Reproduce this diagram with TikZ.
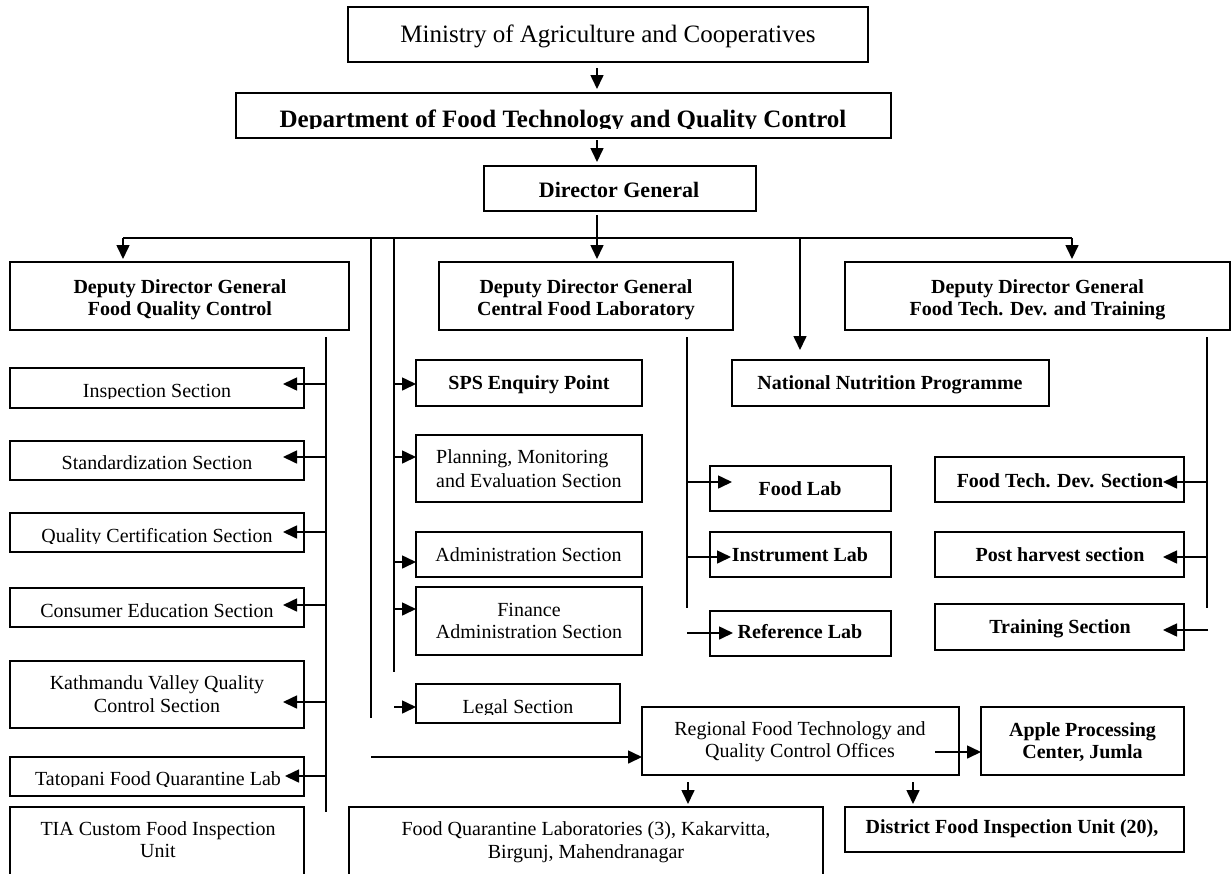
\documentclass[tikz,border=0pt]{standalone}
\usepackage{fontspec}
\setmainfont{Liberation Serif}
\usetikzlibrary{arrows.meta}
\begin{document}
\begin{tikzpicture}[x=1pt,y=-1pt,
  box/.style={draw, line width=1.3pt, inner sep=0pt, outer sep=0pt},
  ln/.style={line width=1.6pt},
  arr/.style={line width=1.6pt, -{Triangle[length=14pt,width=13pt]}},
  arrin/.style={arr, shorten >=-21pt},
  rm/.style={anchor=base, inner sep=0pt, font=\fontsize{20pt}{22pt}\selectfont},
  bf/.style={anchor=base, inner sep=0pt, font=\fontsize{20pt}{22pt}\selectfont\bfseries},
]
\useasboundingbox (0,0) rectangle (1231,873);
\clip (0,0) rectangle (1231,873);

% ---------- boxes ----------
\node[box, minimum width=520pt, minimum height=55pt] (min) at (608,34.5) {};
\node[box, minimum width=655pt, minimum height=45pt] (dept) at (563.5,115.5) {};
\node[box, minimum width=272pt, minimum height=45pt] (dg) at (620,188.5) {};
\node[box, minimum width=339pt, minimum height=68pt] (ddgA) at (179.5,296) {};
\node[box, minimum width=294pt, minimum height=68pt] (ddgB) at (586,296) {};
\node[box, minimum width=385pt, minimum height=68pt] (ddgC) at (1037.5,296) {};
\node[box, minimum width=294pt, minimum height=40pt] (insp) at (157,388) {};
\node[box, minimum width=294pt, minimum height=39pt] (std) at (157,460.5) {};
\node[box, minimum width=294pt, minimum height=39pt] (qc) at (157,532.5) {};
\node[box, minimum width=294pt, minimum height=39pt] (ce) at (157,607.5) {};
\node[box, minimum width=294pt, minimum height=67pt] (ktm) at (157,694.5) {};
\node[box, minimum width=294pt, minimum height=39pt] (tato) at (157,776.5) {};
\node[box, minimum width=294pt, minimum height=93pt] (tia) at (157,853.5) {};
\node[box, minimum width=226pt, minimum height=46pt] (sps) at (529,383) {};
\node[box, minimum width=226pt, minimum height=67pt] (pme) at (529,468.5) {};
\node[box, minimum width=226pt, minimum height=45pt] (adm) at (529,554.5) {};
\node[box, minimum width=226pt, minimum height=68pt] (fin) at (529,621) {};
\node[box, minimum width=204pt, minimum height=39pt] (legal) at (518,703.5) {};
\node[box, minimum width=317pt, minimum height=46pt] (nnp) at (890.5,383) {};
\node[box, minimum width=181pt, minimum height=45pt] (flab) at (800.5,488.5) {};
\node[box, minimum width=181pt, minimum height=45pt] (ilab) at (800.5,554.5) {};
\node[box, minimum width=181pt, minimum height=45pt] (rlab) at (800.5,633.5) {};
\node[box, minimum width=249pt, minimum height=45pt] (ftds) at (1059.5,479.5) {};
\node[box, minimum width=249pt, minimum height=45pt] (phs) at (1059.5,554.5) {};
\node[box, minimum width=249pt, minimum height=46pt] (trs) at (1059.5,627) {};
\node[box, minimum width=317pt, minimum height=68pt] (reg) at (800.5,741) {};
\node[box, minimum width=203pt, minimum height=68pt] (apple) at (1082.5,741) {};
\node[box, minimum width=474pt, minimum height=93pt] (fq) at (586,853.5) {};
\node[box, minimum width=339pt, minimum height=45pt] (dist) at (1014.5,829.5) {};

% ---------- texts ----------
\node[rm, font=\fontsize{25pt}{28pt}\selectfont] (minT) at (608,42) {Ministry of Agriculture and Cooperatives};
\begin{scope}
\clip (236,93) rectangle (891,128.5);
\node[bf, font=\fontsize{25pt}{28pt}\selectfont\bfseries] (deptT) at (563,127) {Department of Food Technology and Quality Control};
\end{scope}
\node[bf, font=\fontsize{22pt}{24pt}\selectfont\bfseries] (dgT) at (619,197) {Director General};

\node[bf] (ddgA1) at (180,293) {Deputy Director General};
\node[bf] (ddgA2) at (180,315) {Food Quality Control};
\node[bf] (ddgB1) at (586,293) {Deputy Director General};
\node[bf] (ddgB2) at (586,315) {Central Food Laboratory};
\node[bf] (ddgC1) at (1037.5,293) {Deputy Director General};
\node[bf] (ddgC2) at (1037.5,315) {Food Tech. Dev. and Training};

\begin{scope}
\clip (10,368) rectangle (304,398.5);
\node[rm] (inspT) at (157,397) {Inspection Section};
\end{scope}
\node[rm] (stdT) at (157,469) {Standardization Section};
\begin{scope}
\clip (10,513) rectangle (304,543);
\node[rm] (qcT) at (157,542) {Quality Certification Section};
\end{scope}
\node[rm] (ceT) at (157,617) {Consumer Education Section};
\node[rm] (ktmT1) at (157,689) {Kathmandu Valley Quality};
\node[rm] (ktmT2) at (157,712) {Control Section};
\begin{scope}
\clip (10,757) rectangle (304,786);
\node[rm] (tatoT) at (158,785) {Tatopani Food Quarantine Lab};
\end{scope}
\node[rm] (tiaT1) at (158,835) {TIA Custom Food Inspection};
\node[rm] (tiaT2) at (158,857) {Unit};

\node[bf] (spsT) at (529,389) {SPS Enquiry Point};
\node[rm, anchor=base west] (pmeT1) at (436,463) {Planning, Monitoring};
\node[rm, anchor=base west] (pmeT2) at (436,487) {and Evaluation Section};
\node[rm] (admT) at (528.5,561) {Administration Section};
\node[rm] (finT1) at (529,616) {Finance};
\node[rm] (finT2) at (529,638) {Administration Section};
\begin{scope}
\clip (416,684) rectangle (620,714);
\node[rm] (legalT) at (518,713) {Legal Section};
\end{scope}

\node[bf] (nnpT) at (890,389) {National Nutrition Programme};
\node[bf] (flabT) at (800,495) {Food Lab};
\node[bf] (ilabT) at (800,561) {Instrument Lab};
\node[bf] (rlabT) at (800,638) {Reference Lab};
\node[bf] (ftdsT) at (1060,487) {Food Tech. Dev. Section};
\node[bf] (phsT) at (1060,561) {Post harvest section};
\node[bf] (trsT) at (1060,633) {Training Section};
\node[rm] (regT1) at (800,735) {Regional Food Technology and};
\node[rm] (regT2) at (800,757) {Quality Control Offices};
\node[bf] (appleT1) at (1082.5,736) {Apple Processing};
\node[bf] (appleT2) at (1082.5,758) {Center, Jumla};
\node[rm] (fqT1) at (586,835) {Food Quarantine Laboratories (3), Kakarvitta,};
\node[rm] (fqT2) at (586,858) {Birgunj, Mahendranagar};
\node[bf] (distT) at (1012,833) {District Food Inspection Unit (20),};

% ---------- connectors ----------
\coordinate (cA) at (597,238);
\draw[arr, shorten <=6pt, shorten >=4pt] (min.south -| cA) -- (dept.north -| cA);
\draw[arr, shorten <=2pt, shorten >=4pt] (dept.south -| cA) -- (dg.north -| cA);
\draw[ln, shorten <=4pt] (dg.south -| cA) -- (cA);
\coordinate (hL) at (123,238);
\coordinate (hR) at (1072,238);
\coordinate (hN) at (800,238);
\draw[ln] (hL) -- (hR);
\draw[arr, shorten >=3pt] (hL) -- (hL |- ddgA.north);
\draw[arr, shorten >=3pt] (cA) -- (cA |- ddgB.north);
\draw[arr, shorten >=3pt] (hR) -- (hR |- ddgC.north);
\draw[arr, shorten >=10pt] (hN) -- (hN |- nnp.north);

\coordinate (vAt) at (371,238); \coordinate (vAb) at (371,718);
\draw[ln] (vAt) -- (vAb);
\coordinate (vBt) at (394,238); \coordinate (vBb) at (394,672);
\draw[ln] (vBt) -- (vBb);

% food quality control branch
\coordinate (fqTop) at (326,337); \coordinate (fqBot) at (326,812);
\draw[ln] (fqTop) -- (fqBot);
\coordinate (f1) at (326,384); \draw[arrin] (f1) -- (f1 -| insp.east);
\coordinate (f2) at (326,457); \draw[arrin] (f2) -- (f2 -| std.east);
\coordinate (f3) at (326,532); \draw[arrin] (f3) -- (f3 -| qc.east);
\coordinate (f4) at (326,605); \draw[arrin] (f4) -- (f4 -| ce.east);
\coordinate (f5) at (326,702); \draw[arrin] (f5) -- (f5 -| ktm.east);
\coordinate (f6) at (326,776); \draw[arr, shorten >=-19pt] (f6) -- (f6 -| tato.east);

% middle branch
\coordinate (m1) at (394,384); \draw[arr] (m1) -- (m1 -| sps.west);
\coordinate (m2) at (394,457); \draw[arr] (m2) -- (m2 -| pme.west);
\coordinate (m3) at (394,562); \draw[arr] (m3) -- (m3 -| adm.west);
\coordinate (m4) at (394,609); \draw[arr] (m4) -- (m4 -| fin.west);
\coordinate (m5) at (394,707); \draw[arr] (m5) -- (m5 -| legal.west);

% central food laboratory branch
\coordinate (cTop) at (687,337); \coordinate (cBot) at (687,608);
\draw[ln] (cTop) -- (cBot);
\coordinate (c1) at (687,482); \draw[arr, shorten >=-22pt] (c1) -- (c1 -| flab.west);
\coordinate (c2) at (687,557); \draw[arr, shorten >=-21pt] (c2) -- (c2 -| ilab.west);
\coordinate (c3) at (687,633); \draw[arr, shorten >=-23pt] (c3) -- (c3 -| rlab.west);

% food tech branch
\coordinate (tTop) at (1207,337); \coordinate (tBot) at (1207,608);
\draw[ln] (tTop) -- (tBot);
\coordinate (t1) at (1207,482); \draw[arrin] (t1) -- (t1 -| ftds.east);
\coordinate (t2) at (1207,557); \draw[arrin] (t2) -- (t2 -| phs.east);
\coordinate (t3) at (1208,630); \draw[arrin] (t3) -- (t3 -| trs.east);

% regional
\coordinate (rg) at (371,757); \draw[arr] (rg) -- (rg -| reg.west);
\coordinate (ap) at (935,752); \draw[arr] (ap) -- (ap -| apple.west);
\coordinate (d1) at (688,782); \draw[arr, shorten >=3pt] (d1) -- (d1 |- fq.north);
\coordinate (d2) at (913,782); \draw[arr, shorten >=3pt] (d2) -- (d2 |- dist.north);
\end{tikzpicture}
\end{document}
